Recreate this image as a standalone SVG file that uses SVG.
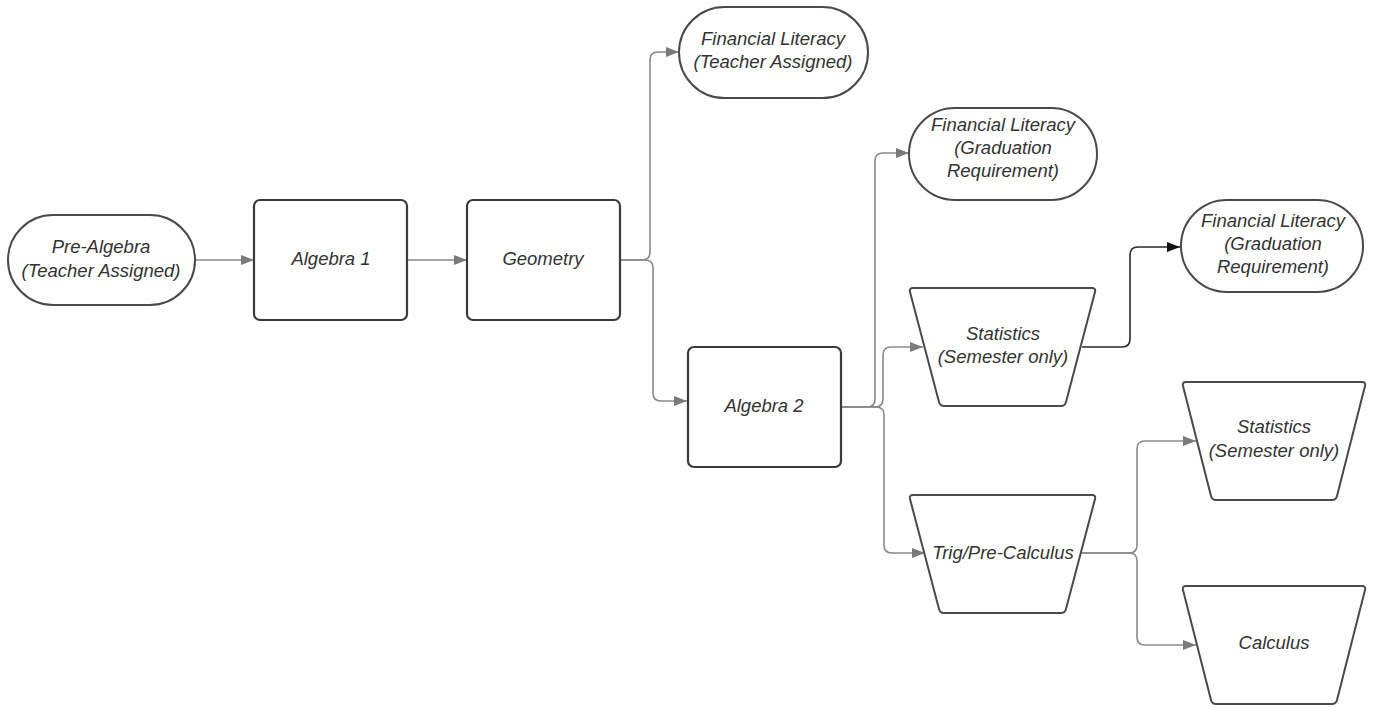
<svg xmlns="http://www.w3.org/2000/svg" width="1375" height="708" viewBox="0 0 1375 708">
<style>
.node{fill:#fff;stroke:#4a4a4a;stroke-width:2;stroke-linejoin:round}
.box{fill:#fff;stroke:#3a3a3a;stroke-width:2.2}
.t{font-family:"Liberation Sans",Arial,sans-serif;font-style:italic;font-size:18.5px;fill:#333;text-anchor:middle}
.c{fill:none;stroke:#8a8a8a;stroke-width:1.6}
.cd{fill:none;stroke:#2a2a2a;stroke-width:1.6}
</style>
<defs>
<marker id="ag" markerUnits="userSpaceOnUse" markerWidth="14" markerHeight="10" refX="13" refY="5" orient="auto"><path d="M0,0 L13,5 L0,10 Z" fill="#7a7a7a"/></marker>
<marker id="ad" markerUnits="userSpaceOnUse" markerWidth="14" markerHeight="10" refX="13" refY="5" orient="auto"><path d="M0,0 L13,5 L0,10 Z" fill="#111"/></marker>
</defs>
<g id="connectors">
<path class="c" marker-end="url(#ag)" d="M196,260 H254"/>
<path class="c" marker-end="url(#ag)" d="M408,260 H467"/>
<path class="c" marker-end="url(#ag)" d="M620,260 H642 Q650,260 650,252 V60 Q650,52 658,52 H679"/>
<path class="c" marker-end="url(#ag)" d="M620,260 H645 Q653,260 653,268 V393 Q653,401 661,401 H687"/>
<path class="c" marker-end="url(#ag)" d="M842,407 H867 Q875,407 875,399 V161 Q875,153 883,153 H909"/>
<path class="c" marker-end="url(#ag)" d="M842,407 H875 Q883,407 883,399 V355 Q883,347 891,347 H923"/>
<path class="c" marker-end="url(#ag)" d="M842,407 H876 Q884,407 884,415 V545 Q884,553 892,553 H925"/>
<path class="cd" marker-end="url(#ad)" d="M1082,347 H1122 Q1130,347 1130,339 V255 Q1130,247 1138,247 H1180"/>
<path class="c" marker-end="url(#ag)" d="M1079,553 H1129 Q1137,553 1137,545 V449 Q1137,441 1145,441 H1196"/>
<path class="c" marker-end="url(#ag)" d="M1079,553 H1129 Q1137,553 1137,561 V637 Q1137,645 1145,645 H1196"/>
</g>
<g id="pre-algebra">
<rect class="node" x="8" y="215" width="187" height="90" rx="45"/>
<text class="t" x="101" y="253">Pre-Algebra</text>
<text class="t" x="101" y="277">(Teacher Assigned)</text>
</g>
<g id="algebra1">
<rect class="box" x="254" y="200" width="153" height="120" rx="6"/>
<text class="t" x="331" y="265">Algebra 1</text>
</g>
<g id="geometry">
<rect class="box" x="467" y="200" width="153" height="120" rx="6"/>
<text class="t" x="543" y="265">Geometry</text>
</g>
<g id="finlit-teacher">
<rect class="node" x="679" y="7" width="189" height="91" rx="45.5"/>
<text class="t" x="773" y="45">Financial Literacy</text>
<text class="t" x="773" y="68">(Teacher Assigned)</text>
</g>
<g id="algebra2">
<rect class="box" x="688" y="347" width="153" height="120" rx="6"/>
<text class="t" x="764" y="412">Algebra 2</text>
</g>
<g id="finlit-grad1">
<rect class="node" x="909" y="108" width="188" height="92" rx="46"/>
<text class="t" x="1003" y="131">Financial Literacy</text>
<text class="t" x="1003" y="154">(Graduation</text>
<text class="t" x="1003" y="177">Requirement)</text>
</g>
<g id="statistics1">
<path class="node" d="M913,288 H1092 Q1096,288 1095,292 L1066,402 Q1065,406 1061,406 H944 Q940,406 939,402 L910,292 Q909,288 913,288 Z"/>
<text class="t" x="1003" y="340">Statistics</text>
<text class="t" x="1003" y="363">(Semester only)</text>
</g>
<g id="finlit-grad2">
<rect class="node" x="1181" y="200" width="182" height="92" rx="46"/>
<text class="t" x="1273" y="227">Financial Literacy</text>
<text class="t" x="1273" y="250">(Graduation</text>
<text class="t" x="1273" y="273">Requirement)</text>
</g>
<g id="trig">
<path class="node" d="M913,495 H1092 Q1096,495 1095,499 L1066,609 Q1065,613 1061,613 H944 Q940,613 939,609 L910,499 Q909,495 913,495 Z"/>
<text class="t" x="1003" y="559">Trig/Pre-Calculus</text>
</g>
<g id="statistics2">
<path class="node" d="M1186,382 H1362 Q1366,382 1365,386 L1337,496 Q1336,500 1332,500 H1216 Q1212,500 1211,496 L1183,386 Q1182,382 1186,382 Z"/>
<text class="t" x="1274" y="433">Statistics</text>
<text class="t" x="1274" y="457">(Semester only)</text>
</g>
<g id="calculus">
<path class="node" d="M1186,586 H1362 Q1366,586 1365,590 L1337,700 Q1336,704 1332,704 H1216 Q1212,704 1211,700 L1183,590 Q1182,586 1186,586 Z"/>
<text class="t" x="1274" y="649">Calculus</text>
</g>
</svg>
